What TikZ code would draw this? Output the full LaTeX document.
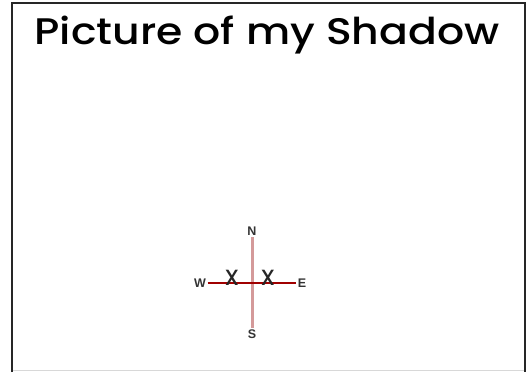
\documentclass[tikz,border=0pt]{standalone}
\usepackage{fontspec}
\setmainfont{Poppins}
\newfontfamily\titlefont{Poppins Medium}
\newfontfamily\compassfont{Liberation Sans}
\definecolor{shadowRed}{HTML}{A00000}
\definecolor{shadowPink}{HTML}{D49A9A}
\definecolor{frameGray}{HTML}{D8D8D8}

\begin{document}
\begin{tikzpicture}[x=1pt,y=-1pt,
    dirlabel/.style={font=\compassfont\bfseries\fontsize{12.5}{12.5}\selectfont,
      text=black!80,inner sep=1.5pt},
    crossmark/.style={font=\titlefont\fontsize{22}{22}\selectfont,inner sep=0pt,
      text=black!85}]
  \useasboundingbox (0,0) rectangle (527,372);
  % frame
  \draw[frameGray,line width=1pt] (11.5,370.5) -- (524.5,370.5);
  \draw[black!85,line width=2pt] (11.5,372) -- (11.5,2.5) -- (524.5,2.5) -- (524.5,372);

  \node[font=\titlefont\fontsize{37}{37}\selectfont,xscale=1.15,transform shape]
    (title) at (267,35) {Picture of my Shadow};

  % compass
  \node[dirlabel] (north) at (252,231) {N};
  \node[dirlabel] (south) at (252,334) {S};
  \node[dirlabel] (west) at (200,283) {W};
  \node[dirlabel] (east) at (302,283) {E};
  \draw[shadowPink,line width=3pt] (north) -- (south);
  \draw[shadowRed,line width=1.4pt] (west) -- (east);

  \node[crossmark] (markW) at (232,278) {X};
  \node[crossmark] (markE) at (268,278) {X};
\end{tikzpicture}
\end{document}
